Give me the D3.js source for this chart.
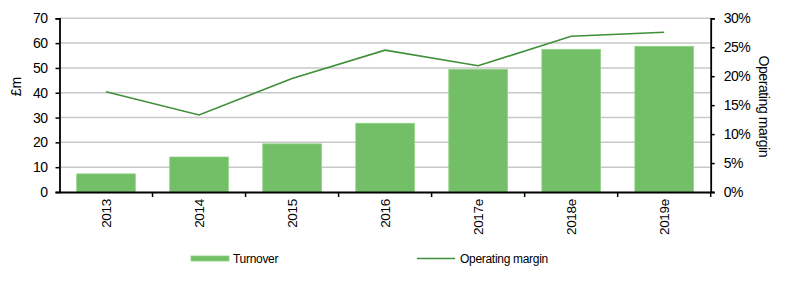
<!DOCTYPE html>
<html>
<head>
<meta charset="utf-8">
<script src="https://cdn.jsdelivr.net/npm/d3@7"></script>
<style>
  body { margin: 0; background: #fff; }
  svg { display: block; font-family: "Liberation Sans", Arial, sans-serif; }
  .tick text { fill: #000; }
</style>
</head>
<body>
<div id="chart"></div>
<script>
var years = ['2013', '2014', '2015', '2016', '2017e', '2018e', '2019e'];
var turnover = [7.3, 14.1, 19.4, 27.7, 49.4, 57.5, 58.7];
var margin = [17.3, 13.3, 19.6, 24.5, 21.8, 26.9, 27.6];
var leftTicks = [0, 10, 20, 30, 40, 50, 60, 70];
var rightTicks = [0, 5, 10, 15, 20, 25, 30];

var W = 800, H = 285;
var m = { t: 18.3, l: 59.5, r: 89.3, b: 93 };
var iw = W - m.l - m.r, ih = H - m.t - m.b;

var barColor = '#72bf67', lineColor = '#3f8f38', gridColor = '#c8c8c8';

var svg = d3.select('#chart').append('svg').attr('width', W).attr('height', H);
var g = svg.append('g').attr('transform', 'translate(' + m.l + ',' + m.t + ')');

var x = d3.scaleBand().domain(years).range([0, iw]).paddingInner(0.37).paddingOuter(0.185);
var xc = d3.scaleBand().domain(years).range([0, iw]);
var y = d3.scaleLinear().domain([0, 70]).range([ih, 0]);
var y2 = d3.scaleLinear().domain([0, 30]).range([ih, 0]);

// gridlines
g.append('g').selectAll('line').data(leftTicks.slice(1)).join('line')
  .attr('x1', 0).attr('x2', iw)
  .attr('y1', function (d) { return y(d); }).attr('y2', function (d) { return y(d); })
  .attr('stroke', gridColor).attr('stroke-width', 1.5);

// bars
g.append('g').selectAll('rect').data(turnover).join('rect')
  .attr('x', function (d, i) { return x(years[i]); })
  .attr('width', x.bandwidth())
  .attr('y', function (d) { return y(d); })
  .attr('height', function (d) { return ih - y(d); })
  .attr('fill', barColor)
  .attr('stroke', '#8fd184').attr('stroke-width', 0.8);

// operating margin line
var line = d3.line()
  .x(function (d, i) { return xc(years[i]) + xc.bandwidth() / 2; })
  .y(function (d) { return y2(d); });
g.append('path').datum(margin).attr('d', line)
  .attr('fill', 'none').attr('stroke', lineColor).attr('stroke-width', 1.6);

// axes
var fs = '14px';
var yAxis = g.append('g').call(d3.axisLeft(y).tickValues(leftTicks).tickSize(4).tickPadding(8));
yAxis.selectAll('text').style('font-size', fs).attr('letter-spacing', '-0.5');
var y2Axis = g.append('g').attr('transform', 'translate(' + iw + ',0)')
  .call(d3.axisRight(y2).tickValues(rightTicks).tickSize(4).tickPadding(9)
    .tickFormat(function (d) { return d + '%'; }));
y2Axis.selectAll('text').style('font-size', fs).attr('letter-spacing', '-0.5');

var xAxis = g.append('g').attr('transform', 'translate(0,' + ih + ')')
  .call(d3.axisBottom(xc).tickSize(0));
xAxis.selectAll('.tick text')
  .attr('transform', 'rotate(-90)')
  .attr('x', -7).attr('y', 0).attr('dy', '0.35em')
  .style('text-anchor', 'end').style('font-size', '13.5px').attr('letter-spacing', '-0.3');
// category separator ticks
g.append('g').selectAll('line').data(years.slice(1).concat(['end'])).join('line')
  .attr('x1', function (d, i) { return xc.step() * (i + 1); })
  .attr('x2', function (d, i) { return xc.step() * (i + 1); })
  .attr('y1', ih).attr('y2', ih + 5)
  .attr('stroke', '#000').attr('stroke-width', 1.5);

[yAxis, y2Axis, xAxis].forEach(function (a) {
  a.select('.domain').attr('stroke', '#000').attr('stroke-width', 1.8);
  a.selectAll('.tick line').attr('stroke', '#000').attr('stroke-width', 1.5);
});

// axis titles
svg.append('text').attr('transform', 'translate(21,' + 86.5 + ') rotate(-90)')
  .attr('text-anchor', 'middle').style('font-size', '14px').text('£m');
svg.append('text').attr('transform', 'translate(759,' + (m.t + 88) + ') rotate(90)')
  .attr('text-anchor', 'middle').style('font-size', '14px').attr('letter-spacing', '-0.4')
  .text('Operating margin');

// legend
var lg = svg.append('g').style('font-size', '12px');
lg.append('rect').attr('x', 191).attr('y', 256).attr('width', 38).attr('height', 5)
  .attr('fill', barColor).attr('stroke', '#8fd184').attr('stroke-width', 0.8);
lg.append('text').attr('x', 233).attr('y', 262.5).attr('letter-spacing', '-0.3').text('Turnover');
lg.append('line').attr('x1', 417).attr('x2', 455).attr('y1', 258.5).attr('y2', 258.5)
  .attr('stroke', lineColor).attr('stroke-width', 1.6);
lg.append('text').attr('x', 460).attr('y', 262.5).attr('letter-spacing', '-0.3').text('Operating margin');
</script>
</body>
</html>
